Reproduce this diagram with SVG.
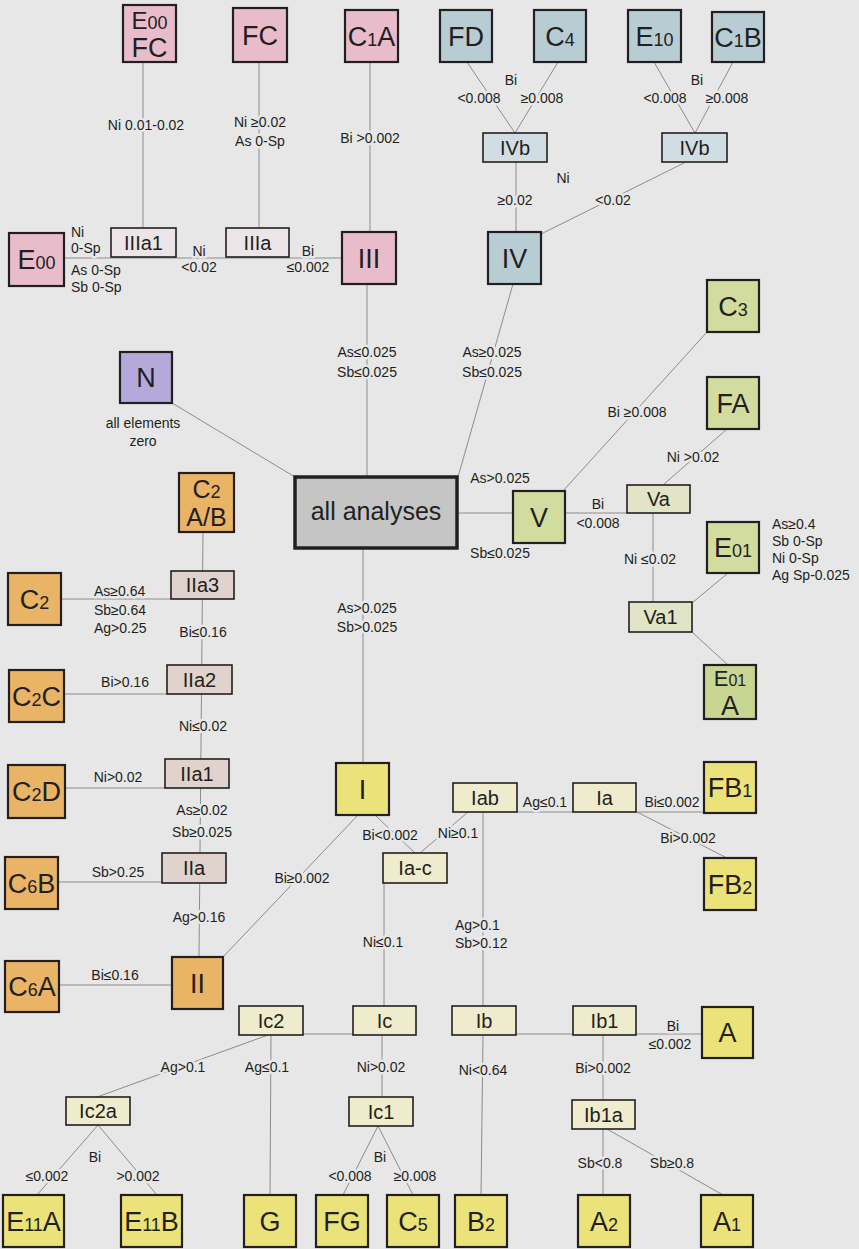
<svg xmlns="http://www.w3.org/2000/svg" width="859" height="1249" viewBox="0 0 859 1249">
<style>
.bg{fill:#e7e7e7}
.ln{stroke:#8c8c8c;stroke-width:1;fill:none}
.bx{stroke:#231f20;stroke-width:2.2}
.sm{stroke:#231f20;stroke-width:1.6}
.pk{fill:#e8bccb}.pkl{fill:#ece5e8}
.bl{fill:#b8ccd4}.bll{fill:#d0dee3}
.pu{fill:#b3aadb}.gr{fill:#c5c5c5}
.or{fill:#e9b466}.orl{fill:#e0d2cc}
.gn{fill:#d3dc9f}.gn2{fill:#c9d693}.gnl{fill:#e1e4c6}
.ye{fill:#ebe379}.yel{fill:#efebcd}
text{font-family:"Liberation Sans",Arial,sans-serif;fill:#231f20}
.t{font-size:27px;text-anchor:middle}
.s{font-size:20px;text-anchor:middle}
.sub{font-size:18px}
.lb{font-size:14px;text-anchor:middle;paint-order:stroke;stroke:#e7e7e7;stroke-width:5px;stroke-linejoin:round}
.ll{font-size:14px;paint-order:stroke;stroke:#e7e7e7;stroke-width:5px;stroke-linejoin:round}
</style>
<rect class="bg" x="0" y="0" width="859" height="1249"/>

<g id="connectors">
<line class="ln" x1="143" y1="62" x2="143" y2="228"/>
<line class="ln" x1="259" y1="62" x2="259" y2="228"/>
<line class="ln" x1="370" y1="62" x2="370" y2="232"/>
<line class="ln" x1="64" y1="258" x2="342" y2="258"/>
<line class="ln" x1="467" y1="62" x2="515" y2="133"/>
<line class="ln" x1="558" y1="62" x2="515" y2="133"/>
<line class="ln" x1="654" y1="62" x2="695" y2="133"/>
<line class="ln" x1="733" y1="62" x2="695" y2="133"/>
<line class="ln" x1="516" y1="162" x2="516" y2="232"/>
<line class="ln" x1="686" y1="162" x2="541" y2="234"/>
<line class="ln" x1="513" y1="284" x2="458" y2="477"/>
<line class="ln" x1="367" y1="284" x2="367" y2="477"/>
<line class="ln" x1="172" y1="403" x2="295" y2="477"/>
<line class="ln" x1="457" y1="513" x2="513" y2="513"/>
<line class="ln" x1="565" y1="513" x2="627" y2="513"/>
<line class="ln" x1="707" y1="332" x2="563" y2="491"/>
<line class="ln" x1="727" y1="429" x2="663" y2="485"/>
<line class="ln" x1="653" y1="513" x2="653" y2="602"/>
<line class="ln" x1="728" y1="573" x2="692" y2="603"/>
<line class="ln" x1="692" y1="632" x2="728" y2="665"/>
<line class="ln" x1="363" y1="548" x2="363" y2="763"/>
<line class="ln" x1="203" y1="532" x2="199" y2="957"/>
<line class="ln" x1="61" y1="599" x2="171" y2="599"/>
<line class="ln" x1="64" y1="694" x2="167" y2="694"/>
<line class="ln" x1="65" y1="788" x2="165" y2="788"/>
<line class="ln" x1="58" y1="882" x2="162" y2="882"/>
<line class="ln" x1="59" y1="985" x2="172" y2="985"/>
<line class="ln" x1="223" y1="957" x2="358" y2="815"/>
<line class="ln" x1="375" y1="815" x2="415" y2="853"/>
<line class="ln" x1="468" y1="812" x2="420" y2="853"/>
<line class="ln" x1="517" y1="812" x2="573" y2="812"/>
<line class="ln" x1="636" y1="812" x2="704" y2="812"/>
<line class="ln" x1="637" y1="812" x2="727" y2="858"/>
<line class="ln" x1="483" y1="812" x2="483" y2="1006"/>
<line class="ln" x1="384" y1="883" x2="384" y2="1006"/>
<line class="ln" x1="303" y1="1034" x2="353" y2="1034"/>
<line class="ln" x1="516" y1="1034" x2="573" y2="1034"/>
<line class="ln" x1="636" y1="1034" x2="702" y2="1034"/>
<line class="ln" x1="483" y1="1035" x2="481" y2="1195"/>
<line class="ln" x1="603" y1="1035" x2="603" y2="1100"/>
<line class="ln" x1="603" y1="1129" x2="603" y2="1195"/>
<line class="ln" x1="607" y1="1129" x2="723" y2="1195"/>
<line class="ln" x1="271" y1="1035" x2="270" y2="1195"/>
<line class="ln" x1="268" y1="1035" x2="97" y2="1097"/>
<line class="ln" x1="98" y1="1125" x2="37" y2="1195"/>
<line class="ln" x1="98" y1="1125" x2="157" y2="1195"/>
<line class="ln" x1="382" y1="1035" x2="382" y2="1097"/>
<line class="ln" x1="378" y1="1126" x2="343" y2="1195"/>
<line class="ln" x1="378" y1="1126" x2="413" y2="1195"/>
</g>

<g id="labels">
<text class="lb" x="146" y="130">Ni 0.01-0.02</text>
<text class="lb" x="260" y="127">Ni ≥0.02</text>
<text class="lb" x="260" y="146">As 0-Sp</text>
<text class="lb" x="370" y="143">Bi &gt;0.002</text>
<text class="lb" x="511" y="85">Bi</text>
<text class="lb" x="479" y="103">&lt;0.008</text>
<text class="lb" x="542" y="103">≥0.008</text>
<text class="lb" x="697" y="85">Bi</text>
<text class="lb" x="665" y="103">&lt;0.008</text>
<text class="lb" x="727" y="103">≥0.008</text>
<text class="lb" x="563" y="183">Ni</text>
<text class="lb" x="515" y="205">≥0.02</text>
<text class="lb" x="613" y="205">&lt;0.02</text>
<text class="ll" x="71" y="237">Ni</text>
<text class="ll" x="71" y="253">0-Sp</text>
<text class="ll" x="71" y="275">As 0-Sp</text>
<text class="ll" x="71" y="292">Sb 0-Sp</text>
<text class="lb" x="199" y="256">Ni</text>
<text class="lb" x="199" y="272">&lt;0.02</text>
<text class="lb" x="308" y="256">Bi</text>
<text class="lb" x="308" y="272">≤0.002</text>
<text class="lb" x="367" y="357">As≤0.025</text>
<text class="lb" x="367" y="377">Sb≤0.025</text>
<text class="lb" x="492" y="357">As≥0.025</text>
<text class="lb" x="492" y="377">Sb≤0.025</text>
<text class="lb" x="637" y="417">Bi ≥0.008</text>
<text class="lb" x="693" y="462">Ni &gt;0.02</text>
<text class="lb" x="143" y="428">all elements</text>
<text class="lb" x="143" y="446">zero</text>
<text class="lb" x="500" y="483">As&gt;0.025</text>
<text class="lb" x="500" y="558">Sb≤0.025</text>
<text class="lb" x="598" y="509">Bi</text>
<text class="lb" x="598" y="528">&lt;0.008</text>
<text class="lb" x="650" y="564">Ni ≤0.02</text>
<text class="ll" x="772" y="529">As≥0.4</text>
<text class="ll" x="772" y="546">Sb 0-Sp</text>
<text class="ll" x="772" y="563">Ni 0-Sp</text>
<text class="ll" x="772" y="580">Ag Sp-0.025</text>
<text class="ll" x="94" y="596">As≥0.64</text>
<text class="ll" x="94" y="615">Sb≥0.64</text>
<text class="ll" x="94" y="633">Ag&gt;0.25</text>
<text class="lb" x="203" y="637">Bi≤0.16</text>
<text class="lb" x="367" y="613">As&gt;0.025</text>
<text class="lb" x="367" y="632">Sb&gt;0.025</text>
<text class="lb" x="125" y="687">Bi&gt;0.16</text>
<text class="lb" x="203" y="731">Ni≤0.02</text>
<text class="lb" x="118" y="782">Ni&gt;0.02</text>
<text class="lb" x="202" y="815">As≥0.02</text>
<text class="lb" x="202" y="837">Sb≥0.025</text>
<text class="lb" x="545" y="807">Ag≤0.1</text>
<text class="lb" x="672" y="807">Bi≤0.002</text>
<text class="lb" x="390" y="840">Bi&lt;0.002</text>
<text class="lb" x="458" y="838">Ni≥0.1</text>
<text class="lb" x="688" y="843">Bi&gt;0.002</text>
<text class="lb" x="118" y="877">Sb&gt;0.25</text>
<text class="lb" x="302" y="883">Bi≥0.002</text>
<text class="lb" x="199" y="922">Ag&gt;0.16</text>
<text class="ll" x="455" y="930">Ag&gt;0.1</text>
<text class="ll" x="455" y="948">Sb&gt;0.12</text>
<text class="lb" x="383" y="947">Ni≤0.1</text>
<text class="lb" x="115" y="980">Bi≤0.16</text>
<text class="lb" x="673" y="1031">Bi</text>
<text class="lb" x="670" y="1049">≤0.002</text>
<text class="lb" x="183" y="1072">Ag&gt;0.1</text>
<text class="lb" x="267" y="1072">Ag≤0.1</text>
<text class="lb" x="381" y="1072">Ni&gt;0.02</text>
<text class="lb" x="483" y="1075">Ni&lt;0.64</text>
<text class="lb" x="603" y="1073">Bi&gt;0.002</text>
<text class="lb" x="95" y="1162">Bi</text>
<text class="lb" x="47" y="1181">≤0.002</text>
<text class="lb" x="138" y="1181">&gt;0.002</text>
<text class="lb" x="380" y="1162">Bi</text>
<text class="lb" x="350" y="1181">&lt;0.008</text>
<text class="lb" x="415" y="1181">≥0.008</text>
<text class="lb" x="600" y="1168">Sb&lt;0.8</text>
<text class="lb" x="672" y="1168">Sb≥0.8</text>
</g>

<g id="n-E00FC"><rect class="bx pk" x="123" y="5" width="53" height="57"/><text class="t" x="149.5" y="29" style="font-size:24px">E<tspan class="sub">00</tspan></text><text class="t" x="149.5" y="57">FC</text></g>
<g id="n-FC"><rect class="bx pk" x="233" y="8" width="54" height="54"/><text class="t" x="260" y="45">FC</text></g>
<g id="n-C1A"><rect class="bx pk" x="345" y="10" width="53" height="52"/><text class="t" x="371.5" y="46">C<tspan class="sub">1</tspan>A</text></g>
<g id="n-FD"><rect class="bx bl" x="440" y="10" width="52" height="52"/><text class="t" x="466" y="46">FD</text></g>
<g id="n-C4"><rect class="bx bl" x="534" y="10" width="52" height="52"/><text class="t" x="560" y="46">C<tspan class="sub">4</tspan></text></g>
<g id="n-E10"><rect class="bx bl" x="628" y="10" width="53" height="52"/><text class="t" x="654.5" y="46">E<tspan class="sub">10</tspan></text></g>
<g id="n-C1B"><rect class="bx bl" x="712" y="12" width="52" height="50"/><text class="t" x="738" y="47">C<tspan class="sub">1</tspan>B</text></g>
<g id="n-IVb1"><rect class="sm bll" x="483" y="133" width="64" height="29"/><text class="s" x="515" y="155">IVb</text></g>
<g id="n-IVb2"><rect class="sm bll" x="662" y="133" width="65" height="29"/><text class="s" x="694.5" y="155">IVb</text></g>
<g id="n-E00"><rect class="bx pk" x="9" y="233" width="55" height="53"/><text class="t" x="36.5" y="269">E<tspan class="sub">00</tspan></text></g>
<g id="n-IIIa1"><rect class="sm pkl" x="111" y="228" width="65" height="29"/><text class="s" x="143.5" y="250">IIIa1</text></g>
<g id="n-IIIa"><rect class="sm pkl" x="226" y="228" width="63" height="29"/><text class="s" x="257.5" y="250">IIIa</text></g>
<g id="n-III"><rect class="bx pk" x="342" y="232" width="54" height="52"/><text class="t" x="369" y="268">III</text></g>
<g id="n-IV"><rect class="bx bl" x="488" y="232" width="53" height="52"/><text class="t" x="514.5" y="268">IV</text></g>
<g id="n-C3"><rect class="bx gn" x="707" y="280" width="52" height="52"/><text class="t" x="733" y="316">C<tspan class="sub">3</tspan></text></g>
<g id="n-N"><rect class="bx pu" x="120" y="352" width="52" height="51"/><text class="t" x="146" y="387">N</text></g>
<g id="n-FA"><rect class="bx gn" x="707" y="377" width="52" height="52"/><text class="t" x="733" y="413">FA</text></g>
<g id="n-C2AB"><rect class="bx or" x="179" y="473" width="55" height="59"/><text class="t" x="206.5" y="498" style="font-size:25px">C<tspan class="sub">2</tspan></text><text class="t" x="206.5" y="526" style="font-size:25px">A/B</text></g>
<g id="n-all"><rect x="295" y="477" width="162" height="71" fill="#c5c5c5" stroke="#231f20" stroke-width="3.5"/><text class="t" x="376" y="520" style="font-size:25px">all analyses</text></g>
<g id="n-V"><rect class="bx gn" x="513" y="491" width="52" height="52"/><text class="t" x="539" y="527">V</text></g>
<g id="n-Va"><rect class="sm gnl" x="627" y="485" width="63" height="28"/><text class="s" x="658.5" y="506">Va</text></g>
<g id="n-E01"><rect class="bx gn" x="707" y="522" width="52" height="51"/><text class="t" x="733" y="557">E<tspan class="sub">01</tspan></text></g>
<g id="n-IIa3"><rect class="sm orl" x="171" y="571" width="63" height="28"/><text class="s" x="202.5" y="592">IIa3</text></g>
<g id="n-C2"><rect class="bx or" x="8" y="573" width="53" height="52"/><text class="t" x="34.5" y="609">C<tspan class="sub">2</tspan></text></g>
<g id="n-Va1"><rect class="sm gnl" x="629" y="602" width="63" height="30"/><text class="s" x="660.5" y="624">Va1</text></g>
<g id="n-IIa2"><rect class="sm orl" x="167" y="665" width="65" height="29"/><text class="s" x="199.5" y="687">IIa2</text></g>
<g id="n-E01A"><rect class="bx gn2" x="704" y="665" width="52" height="54"/><text class="t" x="730" y="686" style="font-size:22px">E<tspan class="sub" style="font-size:16px">01</tspan></text><text class="t" x="730" y="715">A</text></g>
<g id="n-C2C"><rect class="bx or" x="9" y="670" width="55" height="52"/><text class="t" x="36.5" y="706">C<tspan class="sub">2</tspan>C</text></g>
<g id="n-IIa1"><rect class="sm orl" x="165" y="759" width="64" height="29"/><text class="s" x="197" y="781">IIa1</text></g>
<g id="n-I"><rect class="bx ye" x="336" y="763" width="53" height="52"/><text class="t" x="362.5" y="799">I</text></g>
<g id="n-Iab"><rect class="sm yel" x="453" y="783" width="64" height="29"/><text class="s" x="485" y="805">Iab</text></g>
<g id="n-Ia"><rect class="sm yel" x="573" y="783" width="63" height="29"/><text class="s" x="604.5" y="805">Ia</text></g>
<g id="n-FB1"><rect class="bx ye" x="704" y="762" width="52" height="51"/><text class="t" x="730" y="797">FB<tspan class="sub">1</tspan></text></g>
<g id="n-C2D"><rect class="bx or" x="8" y="765" width="57" height="53"/><text class="t" x="36.5" y="801">C<tspan class="sub">2</tspan>D</text></g>
<g id="n-IIa"><rect class="sm orl" x="162" y="853" width="64" height="30"/><text class="s" x="194" y="875">IIa</text></g>
<g id="n-Iac"><rect class="sm yel" x="383" y="853" width="64" height="30"/><text class="s" x="415" y="875">Ia-c</text></g>
<g id="n-C6B"><rect class="bx or" x="5" y="857" width="53" height="52"/><text class="t" x="31.5" y="893">C<tspan class="sub">6</tspan>B</text></g>
<g id="n-FB2"><rect class="bx ye" x="704" y="858" width="52" height="52"/><text class="t" x="730" y="894">FB<tspan class="sub">2</tspan></text></g>
<g id="n-II"><rect class="bx or" x="172" y="957" width="51" height="52"/><text class="t" x="197.5" y="993">II</text></g>
<g id="n-C6A"><rect class="bx or" x="5" y="961" width="54" height="51"/><text class="t" x="32" y="996">C<tspan class="sub">6</tspan>A</text></g>
<g id="n-Ic2"><rect class="sm yel" x="239" y="1006" width="64" height="29"/><text class="s" x="271" y="1028">Ic2</text></g>
<g id="n-Ic"><rect class="sm yel" x="353" y="1006" width="63" height="29"/><text class="s" x="384.5" y="1028">Ic</text></g>
<g id="n-Ib"><rect class="sm yel" x="452" y="1006" width="64" height="29"/><text class="s" x="484" y="1028">Ib</text></g>
<g id="n-Ib1"><rect class="sm yel" x="573" y="1006" width="63" height="29"/><text class="s" x="604.5" y="1028">Ib1</text></g>
<g id="n-A"><rect class="bx ye" x="702" y="1007" width="51" height="51"/><text class="t" x="727.5" y="1042">A</text></g>
<g id="n-Ic2a"><rect class="sm yel" x="66" y="1097" width="64" height="28"/><text class="s" x="98" y="1118">Ic2a</text></g>
<g id="n-Ic1"><rect class="sm yel" x="349" y="1097" width="64" height="29"/><text class="s" x="381" y="1119">Ic1</text></g>
<g id="n-Ib1a"><rect class="sm yel" x="572" y="1100" width="63" height="29"/><text class="s" x="603.5" y="1122">Ib1a</text></g>
<g id="n-E11A"><rect class="bx ye" x="3" y="1195" width="61" height="52"/><text class="t" x="33.5" y="1231">E<tspan class="sub">11</tspan>A</text></g>
<g id="n-E11B"><rect class="bx ye" x="121" y="1195" width="61" height="52"/><text class="t" x="151.5" y="1231">E<tspan class="sub">11</tspan>B</text></g>
<g id="n-G"><rect class="bx ye" x="244" y="1195" width="52" height="52"/><text class="t" x="270" y="1231">G</text></g>
<g id="n-FG"><rect class="bx ye" x="316" y="1195" width="52" height="52"/><text class="t" x="342" y="1231">FG</text></g>
<g id="n-C5"><rect class="bx ye" x="387" y="1195" width="52" height="52"/><text class="t" x="413" y="1231">C<tspan class="sub">5</tspan></text></g>
<g id="n-B2"><rect class="bx ye" x="455" y="1195" width="52" height="52"/><text class="t" x="481" y="1231">B<tspan class="sub">2</tspan></text></g>
<g id="n-A2"><rect class="bx ye" x="578" y="1195" width="52" height="52"/><text class="t" x="604" y="1231">A<tspan class="sub">2</tspan></text></g>
<g id="n-A1"><rect class="bx ye" x="701" y="1195" width="52" height="52"/><text class="t" x="727" y="1231">A<tspan class="sub">1</tspan></text></g>
</svg>
